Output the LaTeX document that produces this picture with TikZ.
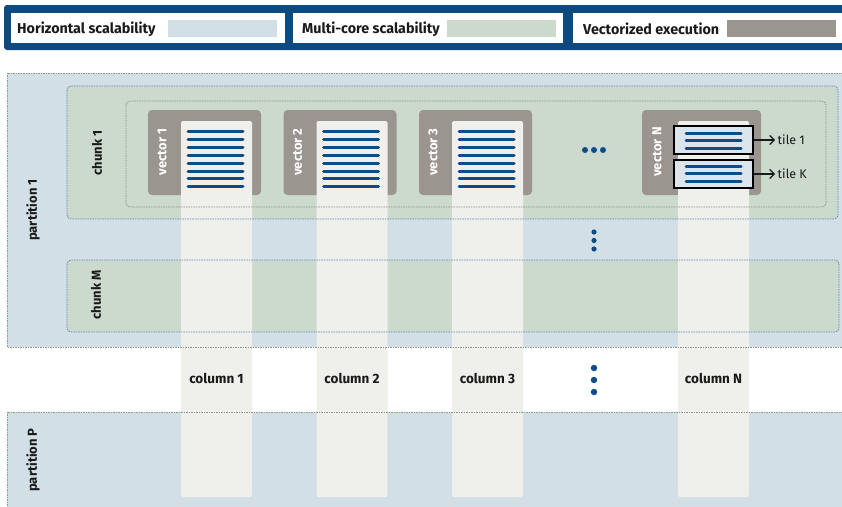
\documentclass[tikz,border=0pt]{standalone}
\usepackage{fontspec}
\setmainfont{Fira Sans}
\usetikzlibrary{arrows.meta}
\definecolor{legblue}{HTML}{0D4A80}
\definecolor{partfill}{HTML}{D3DFE7}
\definecolor{chunkfill}{HTML}{CCDACE}
\definecolor{vecgrey}{HTML}{9B958F}
\definecolor{stripfill}{HTML}{EFEFEC}
\definecolor{blueline}{HTML}{0D4C86}
\definecolor{partedge}{HTML}{8E9C86}
\definecolor{chunkedge}{HTML}{5F88AC}
\definecolor{groupedge}{HTML}{8C8C88}
\definecolor{tilefill}{HTML}{DCE5EC}
\definecolor{txt}{HTML}{1A1A1A}
\begin{document}
\begin{tikzpicture}[x=1pt,y=-1pt,
  lab/.style={font=\bfseries\fontsize{13.5}{15}\selectfont, text=txt, inner sep=0pt},
  leg/.style={font=\bfseries\fontsize{14.3}{16}\selectfont, text=txt, inner sep=0pt, anchor=west},
  vlab/.style={font=\bfseries\fontsize{13}{15}\selectfont, text=white, rotate=90, inner sep=0pt},
  rlab/.style={font=\bfseries\fontsize{13}{15}\selectfont, text=txt, rotate=90, inner sep=0pt},
  bluestroke/.style={line width=3pt, line cap=round, draw=blueline},
  partborder/.style={draw=partedge, line width=0.7pt, dash pattern=on 1.5pt off 1pt},
  chunkborder/.style={draw=chunkedge, line width=0.7pt, dash pattern=on 1.5pt off 1pt, rounded corners=4pt},
  groupborder/.style={draw=groupedge, line width=0.7pt, dash pattern=on 1.5pt off 1pt, rounded corners=4pt},
  tilebox/.style={draw=black, line width=1.3pt, fill=tilefill, minimum width=79pt, minimum height=28pt, inner sep=0pt},
  colstrip/.style={fill=stripfill, rounded corners=2pt},
  vecbox/.style={fill=vecgrey, rounded corners=4pt},
  bdot/.style={fill=blueline},
  tarrow/.style={-{Straight Barb[length=4.5pt,width=9pt]}, line width=1.2pt, draw=txt},
  tlab/.style={font=\fontsize{12.5}{14}\selectfont, text=txt, inner sep=2.5pt, anchor=west}
]
\useasboundingbox (0,0) rectangle (842,506);
\begin{scope}
\clip (0,0) rectangle (842,506);
% legend
\fill[legblue, rounded corners=3pt] (4,5) rectangle (870,50);
\fill[white] (11,13) rectangle (285,43);
\fill[white] (293,13) rectangle (563,43);
\fill[white] (573,13) rectangle (870,43);
\fill[partfill] (168,20) rectangle (277,37);
\fill[chunkfill] (447,20) rectangle (556,37);
\fill[vecgrey] (727,20) rectangle (836,37);
\node[leg] (lh) at (17,29) {Horizontal scalability};
\node[leg] (lm) at (302,29) {Multi-core scalability};
\node[leg] (lv) at (583,29) {Vectorized execution};
% partitions
\fill[partfill] (7,73) rectangle (870,347);
\fill[partfill] (7,412) rectangle (870,520);
% chunks
\fill[chunkfill, rounded corners=4pt] (67,86) rectangle (838,219);
\fill[chunkfill, rounded corners=4pt] (67,260) rectangle (839,332);
% vector boxes
\fill[vecbox] (148,110) rectangle (261,195);
\fill[vecbox] (283.5,110) rectangle (396.5,195);
\fill[vecbox] (419,110) rectangle (532,195);
\fill[vecbox] (642,110) rectangle (761,195);
% column strips
\foreach \x in {181,316.5,452,678} {
  \fill[colstrip] (\x,121) rectangle ({\x+71},497);
}
% borders
\draw[partborder] (870,73) -- (7,73) -- (7,347) -- (870,347);
\draw[partborder] (870,412) -- (7,412) -- (7,520);
\draw[chunkborder] (67,86) rectangle (838,219);
\draw[chunkborder] (67,260) rectangle (839,332);
\draw[groupborder] (126,101) rectangle (826,207);
% blue lines in vectors 1..3
\foreach \x in {181,316.5,452} {
  \foreach \i in {0,...,7} {
    \draw[bluestroke] ({\x+7},{131.7+7.86*\i}) -- ({\x+62},{131.7+7.86*\i});
  }
}
% tiles
\node[tilebox] (tile1) at (713.5,140) {};
\node[tilebox] (tileK) at (713.5,174) {};
\foreach \y in {133,140.5,148,166,173.5,181} {
  \draw[bluestroke] (686,\y) -- (741,\y);
}
\node[tlab] (t1) at (775,140) {tile 1};
\node[tlab] (tK) at (775,174) {tile K};
\draw[tarrow] (tile1.east) -- (t1.west);
\draw[tarrow] (tileK.east) -- (tK.west);
% dots
\foreach \x in {585,594,603} { \fill[bdot] (\x,150) circle (3pt); }
\foreach \y in {232,240.5,249} { \fill[bdot] (594,\y) circle (2.6pt); }
\foreach \y in {368,380,392} { \fill[bdot] (594,\y) circle (3.2pt); }
% labels
\node[rlab] (p1) at (33,210) {partition 1};
\node[rlab] (pP) at (33,460) {partition P};
\node[rlab] (c1) at (97,153) {chunk 1};
\node[rlab] (cM) at (96,295) {chunk M};
\node[vlab] (v1) at (162,152) {vector 1};
\node[vlab] (v2) at (297.5,152) {vector 2};
\node[vlab] (v3) at (433,152) {vector 3};
\node[vlab] (vN) at (657,152) {vector N};
\node[lab] (col1) at (216.5,378) {column 1};
\node[lab] (col2) at (352,378) {column 2};
\node[lab] (col3) at (487.5,378) {column 3};
\node[lab] (colN) at (713.5,378) {column N};
\end{scope}
\end{tikzpicture}
\end{document}
